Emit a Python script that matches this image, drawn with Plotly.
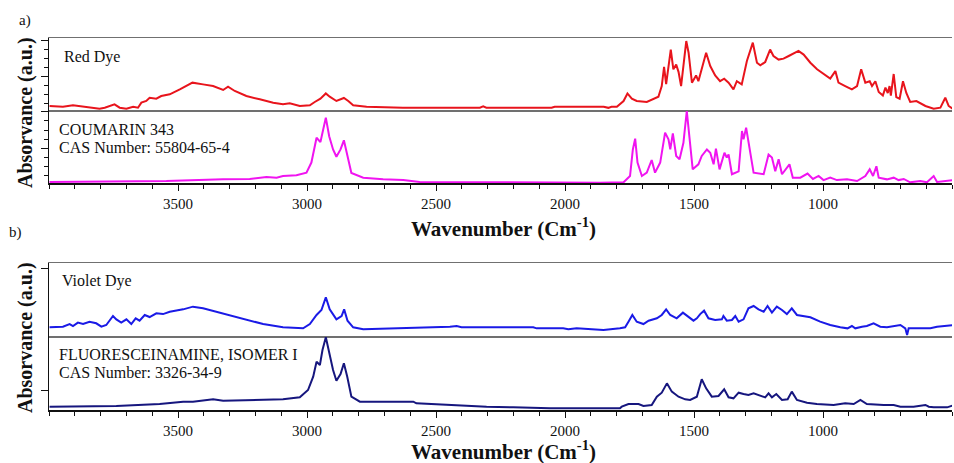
import plotly.graph_objects as go

# ---------------- data ----------------
red_wn = [3998, 3946, 3907, 3868, 3830, 3804, 3784, 3746, 3726, 3700,
          3674, 3655, 3642, 3623, 3610, 3584, 3565, 3532, 3493, 3468,
          3444, 3403, 3364, 3325, 3306, 3280, 3235, 3183, 3131, 3093,
          3067, 3028, 2989, 2970, 2948, 2927, 2912, 2886, 2857, 2840,
          2821, 2769, 2679, 2640, 2628, 2330, 2317, 2305, 2052, 2040,
          1936, 1850, 1832, 1820, 1799, 1773, 1758, 1741, 1722, 1683,
          1638, 1625, 1616, 1608, 1590, 1580, 1569, 1560, 1550, 1530,
          1521, 1508, 1492, 1483, 1453, 1437, 1418, 1399, 1383, 1366,
          1347, 1334, 1315, 1295, 1272, 1256, 1243, 1224, 1205, 1192,
          1172, 1153, 1133, 1114, 1095, 1075, 1049, 1023, 991, 972,
          952, 940, 914, 888, 868, 852, 836, 819, 810, 797,
          784, 768, 758, 749, 742, 737, 726, 716, 703, 690,
          677, 662, 638, 603, 571, 545, 526, 513, 494]
red_abs = [.056, .046, .065, .046, .032, .019, .032, .079, .032, .019,
           .046, .032, .102, .125, .171, .157, .194, .218, .287, .333,
           .38, .356, .333, .278, .324, .264, .194, .148, .102, .079,
           .093, .056, .065, .111, .157, .23, .185, .125, .167, .125,
           .065, .046, .04, .04, .032, .032, .05, .032, .032, .046,
           .05, .046, .03, .046, .046, .125, .23, .157, .125, .111,
           .185, .333, .60, .36, .84, .565, .63, .53, .333, .958,
           .796, .38, .48, .40, .796, .61, .48, .40, .435, .38,
           .287, .40, .356, .68, .935, .657, .62, .667, .84, .75,
           .70, .713, .75, .787, .82, .77, .657, .565, .48, .435,
           .54, .38, .333, .287, .333, .565, .38, .40, .333, .40,
           .25, .20, .31, .236, .333, .20, .50, .18, .157, .40,
           .236, .111, .125, .056, .019, .032, .171, .056, .009]

coum_wn = [3998, 3545, 3325, 3222, 3157, 3118, 3093, 3041, 3002, 2983,
           2963, 2948, 2937, 2927, 2914, 2899, 2886, 2870, 2857, 2844,
           2828, 2782, 2705, 2627, 2563, 1864, 1773, 1748, 1737, 1728,
           1719, 1702, 1683, 1664, 1651, 1631, 1612, 1599, 1592, 1582,
           1569, 1556, 1541, 1528, 1517, 1505, 1483, 1470, 1450, 1437,
           1424, 1415, 1401, 1382, 1373, 1366, 1353, 1327, 1314, 1308,
           1298, 1285, 1269, 1230, 1211, 1198, 1185, 1172, 1159, 1130,
           1117, 1088, 1060, 1039, 1017, 998, 972, 946, 907, 868,
           836, 819, 806, 793, 784, 752, 726, 707, 687, 662,
           623, 597, 571, 558, 519, 491]
coum_abs = [.015, .027, .05, .055, .082, .073, .096, .105, .142, .28,
            .62, .56, .735, .895, .64, .46, .36, .46, .585, .37,
            .137, .073, .05, .04, .015, .005, .01, .096, .46, .607,
            .28, .096, .142, .315, .142, .28, .69, .60, .46, .68,
            .37, .325, .55, .986, .64, .187, .256, .37, .46, .415,
            .256, .47, .187, .415, .35, .39, .12, .16, .712, .60,
            .758, .50, .142, .12, .39, .35, .16, .325, .12, .256,
            .073, .073, .13, .055, .096, .04, .073, .04, .05, .027,
            .096, .187, .096, .23, .073, .05, .073, .04, .055, .01,
            .027, .01, .096, .015, .027, .04]

violet_wn = [3998, 3946, 3920, 3907, 3888, 3868, 3843, 3817, 3797, 3778,
             3752, 3739, 3720, 3700, 3681, 3664, 3649, 3629, 3610, 3584,
             3558, 3532, 3480, 3442, 3403, 3325, 3248, 3170, 3093, 3015,
             2989, 2963, 2944, 2927, 2912, 2886, 2866, 2856, 2843, 2821,
             2782, 2627, 2446, 2420, 2401, 2123, 2110, 2007, 1987, 1955,
             1903, 1851, 1787, 1767, 1754, 1739, 1722, 1696, 1676, 1644,
             1625, 1608, 1592, 1567, 1543, 1521, 1502, 1489, 1476, 1461,
             1444, 1418, 1392, 1386, 1373, 1353, 1340, 1327, 1308, 1289,
             1269, 1250, 1230, 1215, 1198, 1179, 1159, 1140, 1121, 1101,
             1075, 1049, 1011, 972, 933, 905, 888, 875, 849, 830,
             804, 778, 752, 726, 700, 681, 674, 668, 623, 584,
             558, 519, 491]
violet_abs = [.119, .128, .164, .137, .183, .164, .196, .174, .128, .151,
              .274, .228, .183, .228, .164, .242, .21, .288, .26, .31,
              .30, .333, .365, .402, .379, .31, .242, .164, .119, .105,
              .164, .288, .356, .53, .365, .228, .274, .365, .21, .119,
              .092, .105, .128, .137, .119, .119, .105, .105, .092, .105,
              .092, .082, .105, .119, .196, .288, .196, .164, .21, .242,
              .288, .365, .288, .242, .32, .256, .21, .242, .30, .347,
              .242, .219, .228, .274, .21, .219, .274, .196, .228, .379,
              .411, .365, .333, .411, .32, .402, .356, .30, .379, .288,
              .274, .256, .196, .151, .119, .105, .137, .105, .128, .137,
              .174, .128, .119, .137, .151, .105, .014, .105, .105, .105,
              .128, .137, .151]

fluo_wn = [3998, 3739, 3571, 3480, 3442, 3364, 3325, 3222, 3093, 3028,
           2996, 2976, 2963, 2950, 2940, 2927, 2914, 2899, 2886, 2870,
           2857, 2844, 2828, 2795, 2679, 2588, 2576, 2524, 2433, 2369,
           2304, 2201, 2058, 1787, 1780, 1754, 1715, 1696, 1664, 1644,
           1625, 1605, 1586, 1560, 1534, 1515, 1489, 1470, 1453, 1431,
           1405, 1383, 1366, 1347, 1327, 1308, 1289, 1269, 1243, 1224,
           1211, 1198, 1181, 1159, 1137, 1121, 1101, 1062, 1024, 959,
           914, 881, 855, 830, 765, 726, 700, 649, 603, 590,
           571, 519, 491]
fluo_abs = [.045, .054, .081, .113, .113, .144, .126, .135, .144, .171,
            .27, .45, .653, .608, .81, .982, .766, .54, .396, .486,
            .631, .45, .18, .113, .113, .113, .09, .081, .068, .054,
            .045, .036, .023, .023, .045, .081, .081, .054, .068, .18,
            .234, .36, .248, .18, .144, .135, .18, .415, .293, .18,
            .189, .279, .171, .158, .234, .216, .203, .225, .189, .171,
            .225, .171, .216, .135, .144, .248, .135, .099, .081, .068,
            .09, .081, .135, .081, .068, .068, .045, .045, .068, .045,
            .036, .036, .068]

x_ticks = [3500, 3000, 2500, 2000, 1500, 1000]
x_range = [4000, 500]

# ---------------- figure ----------------
W, H = 954, 463
ML, MR = 49, 2
PW = W - ML - MR


def py(px):  # pixel row -> paper fraction (t=b=0 margins)
    return 1 - px / H


def pxx(px):  # pixel column -> paper fraction
    return (px - ML) / PW


SERIF = "Liberation Serif, Times New Roman, serif"

fig = go.Figure()
series = [
    (red_wn, red_abs, "#e8141c", "x", "y"),
    (coum_wn, coum_abs, "#f014f0", "x2", "y2"),
    (violet_wn, violet_abs, "#1a1ae6", "x3", "y3"),
    (fluo_wn, fluo_abs, "#16167e", "x4", "y4"),
]
for wn, ab, col, xa, ya in series:
    fig.add_trace(go.Scatter(x=wn, y=ab, mode="lines", xaxis=xa, yaxis=ya,
                             line=dict(color=col, width=2), showlegend=False,
                             hoverinfo="skip"))

doms = {
    "y": [py(110), py(38)],
    "y2": [py(183), py(110)],
    "y3": [py(336), py(263)],
    "y4": [py(410), py(336)],
}

top_x = dict(range=x_range, domain=[0, 1], showline=True, mirror=True,
             linecolor="#707070", linewidth=1.5, showgrid=False, zeroline=False,
             showticklabels=False, ticks="")
bot_x = dict(range=x_range, domain=[0, 1], showline=True, linecolor="#111",
             linewidth=1.5, showgrid=False, zeroline=False, ticks="outside",
             ticklen=6, tickwidth=1, tickcolor="#111", tickvals=x_ticks,
             tickfont=dict(family=SERIF, size=15, color="#111"),
             minor=dict(ticks="outside", ticklen=4, tick0=0, dtick=100,
                        tickcolor="#111", showgrid=False))

fig.update_layout(
    width=W, height=H, margin=dict(l=ML, r=MR, t=0, b=0),
    paper_bgcolor="white", plot_bgcolor="white",
    xaxis=dict(anchor="y", **top_x),
    xaxis2=dict(anchor="y2", **bot_x),
    xaxis3=dict(anchor="y3", **top_x),
    xaxis4=dict(anchor="y4", **bot_x),
)

ya_common = dict(range=[0, 1], showline=True, linecolor="#111", linewidth=1.5,
                 showgrid=False, zeroline=False, showticklabels=False,
                 ticks="outside", ticklen=7, tickcolor="#111", fixedrange=True)
fig.update_layout(
    yaxis=dict(domain=doms["y"], anchor="x", tick0=-0.03, dtick=0.5,
               minor=dict(ticks="outside", ticklen=4, tick0=-0.03, dtick=0.125,
                          tickcolor="#111", showgrid=False), **ya_common),
    yaxis2=dict(domain=doms["y2"], anchor="x2", tick0=-0.025, dtick=0.5,
                minor=dict(ticks="outside", ticklen=4, tick0=-0.025, dtick=0.125,
                           tickcolor="#111", showgrid=False), **ya_common),
    yaxis3=dict(domain=doms["y3"], anchor="x3", tickvals=[0.93], **ya_common),
    yaxis4=dict(domain=doms["y4"], anchor="x4", tickvals=[0.27], **ya_common),
)

ann = []


def txt(text, xpx, ypx, size, bold=False, xanchor="left", angle=0):
    ann.append(dict(text=("<b>%s</b>" % text) if bold else text,
                    x=pxx(xpx), y=py(ypx), xref="paper", yref="paper",
                    xanchor=xanchor, yanchor="middle", showarrow=False,
                    textangle=angle,
                    font=dict(family=SERIF, size=size, color="#111")))


txt("a)", 17, 20, 15)
txt("b)", 7, 233, 15)
txt("Red Dye", 62, 57, 16)
txt("COUMARIN 343", 57, 129, 16)
txt("CAS Number: 55804-65-4", 57, 147, 16)
txt("Violet Dye", 60, 281, 16)
txt("FLUORESCEINAMINE, ISOMER I", 57, 354, 16)
txt("CAS Number: 3326-34-9", 57, 372, 16)
txt("Wavenumber (Cm<sup>-1</sup>)", 503, 227, 21, bold=True, xanchor="center")
txt("Wavenumber (Cm<sup>-1</sup>)", 503, 450, 21, bold=True, xanchor="center")
txt("Absorvance (a.u.)", 25, 113, 20, bold=True, xanchor="center", angle=-90)
txt("Absorvance (a.u.)", 25, 338, 20, bold=True, xanchor="center", angle=-90)
fig.update_layout(annotations=ann)

fig.write_html("out.html",
               config={"displayModeBar": False, "staticPlot": True},
               post_script="document.body.style.margin='0px';"
                           "document.body.style.overflow='hidden';")
